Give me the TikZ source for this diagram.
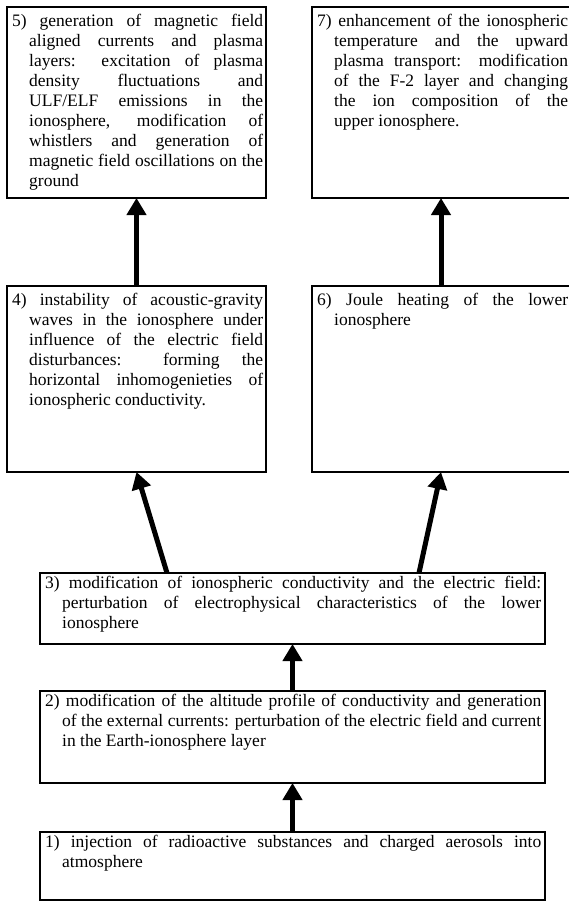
\documentclass[tikz,border=0pt]{standalone}
\usepackage{fontspec}
\setmainfont{Liberation Serif}
\usetikzlibrary{arrows.meta}

\tikzset{
    stagebox/.style={draw, line width=1.6pt, inner sep=0pt, outer sep=0pt, anchor=north west},
    stagetext/.style={anchor=north west, inner xsep=5pt, inner ysep=7pt, text width=#1,
        align=justify, font=\fontsize{17.5}{20}\selectfont},
    push/.style={line width=5pt, -{Triangle[length=17pt,width=19pt]}},
}
% justified paragraph with the number hanging out
\newcommand{\stage}[1]{\tolerance=10000\hyphenpenalty=10000\parindent=0pt%
    \hangindent=17pt\hangafter=1\relax #1\par}

\begin{document}
\begin{tikzpicture}[x=1pt,y=-1pt]

    \useasboundingbox (0,0) rectangle (568,902);

    % upper ionosphere effects
    \node[stagebox, minimum width=259pt, minimum height=191pt] (b5) at (7,7) {};
    \node[stagetext=251pt] (t5) at (b5.north west) {\stage{5) generation of magnetic field\linebreak
        aligned currents and plasma\linebreak layers: excitation of plasma\linebreak
        density fluctuations and\linebreak ULF/ELF emissions in the\linebreak
        ionosphere, modification of\linebreak whistlers and generation of\linebreak
        magnetic field oscillations on the\linebreak ground}};

    \node[stagebox, minimum width=258pt, minimum height=191pt] (b7) at (312,7) {};
    \node[stagetext=251pt] (t7) at (b7.north west) {\stage{7) enhancement of the ionospheric\linebreak
        temperature and the upward\linebreak plasma transport: modification\linebreak
        of the F-2 layer and changing\linebreak the ion composition of the\linebreak
        upper ionosphere.}};

    % lower ionosphere effects
    \node[stagebox, minimum width=259pt, minimum height=186pt] (b4) at (7,286) {};
    \node[stagetext=251pt] (t4) at (b4.north west) {\stage{4) instability of acoustic-gravity\linebreak
        waves in the ionosphere under\linebreak influence of the electric field\linebreak
        disturbances: forming the\linebreak horizontal inhomogenieties of\linebreak
        ionospheric conductivity.}};

    \node[stagebox, minimum width=258pt, minimum height=186pt] (b6) at (312,286) {};
    \node[stagetext=251pt] (t6) at (b6.north west) {\stage{6) Joule heating of the lower\linebreak
        ionosphere}};

    % conductivity and field
    \node[stagebox, minimum width=505pt, minimum height=71pt] (b3) at (40,573) {};
    \node[stagetext=496pt, inner ysep=3pt] (t3) at (b3.north west) {\stage{3) modification of ionospheric conductivity and the electric field:\linebreak
        perturbation of electrophysical characteristics of the lower\linebreak ionosphere}};

    \node[stagebox, minimum width=505pt, minimum height=92pt] (b2) at (40,691) {};
    \node[stagetext=496pt, inner ysep=3pt] (t2) at (b2.north west) {\stage{2) modification of the altitude profile of conductivity and generation\linebreak
        of the external currents: perturbation of the electric field and current\linebreak
        in the Earth-ionosphere layer}};

    % source
    \node[stagebox, minimum width=505pt, minimum height=68pt] (b1) at (40,832) {};
    \node[stagetext=496pt, inner ysep=3pt] (t1) at (b1.north west) {\stage{1) injection of radioactive substances and charged aerosols into\linebreak
        atmosphere}};

    % arrows
    \draw[push](b1.north) to (b2.south);
    \draw[push](b2.north) to (b3.south);
    \draw[push]([xshift=127pt]b3.north west) to (b4.south);
    \draw[push]([xshift=-126pt]b3.north east) to (b6.south);
    \draw[push](b4.north) to (b5.south);
    \draw[push](b6.north) to (b7.south);

\end{tikzpicture}
\end{document}
